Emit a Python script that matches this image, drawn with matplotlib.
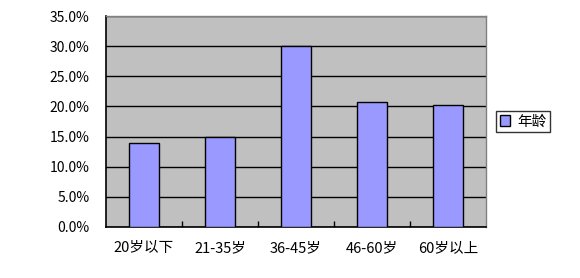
import matplotlib
matplotlib.use("Agg")
import matplotlib.pyplot as plt
from matplotlib.ticker import FuncFormatter, MultipleLocator

plt.rcParams['font.family'] = ['Noto Sans CJK SC', 'DejaVu Sans']

categories = ["20岁以下", "21-35岁", "36-45岁", "46-60岁", "60岁以上"]
values = [13.9, 15.0, 30.0, 20.7, 20.2]
series_name = "年龄"

fig = plt.figure(figsize=(5.8, 2.78), dpi=100)
ax = fig.add_axes([106/580, 1 - 227/278, 380/580, 211/278])
ax.set_facecolor('#C0C0C0')

x = list(range(len(categories)))
ax.bar(x, values, width=0.4, color='#9999FF', edgecolor='black', linewidth=1,
       label=series_name, zorder=3)

ax.set_xlim(-0.5, len(categories) - 0.5)
ax.set_ylim(0, 35)
ax.yaxis.set_major_locator(MultipleLocator(5))
ax.yaxis.set_major_formatter(FuncFormatter(lambda v, p: f"{v:.1f}%"))
ax.grid(axis='y', color='black', linewidth=1, zorder=1)
ax.set_axisbelow(True)

ax.set_xticks(x)
ax.set_xticklabels(categories, fontsize=10.5)
ax.tick_params(axis='x', length=0, pad=10)
ax.set_xticks([i + 0.5 for i in x[:-1]], minor=True)
ax.tick_params(axis='x', which='minor', direction='in', length=4, width=1, color='black')
ax.tick_params(axis='y', length=0, pad=12, labelsize=10)

for s in ['left', 'bottom']:
    ax.spines[s].set_color('black')
    ax.spines[s].set_linewidth(1.2)
for s in ['top', 'right']:
    ax.spines[s].set_color('#808080')
    ax.spines[s].set_linewidth(1)

leg = ax.legend(loc='center left', bbox_to_anchor=(390/380, 0.5), frameon=True,
                fancybox=False, edgecolor='black', fontsize=10.5, handlelength=0.7,
                handleheight=0.7, handletextpad=0.5, borderpad=0.25,
                borderaxespad=0)
leg.get_frame().set_linewidth(1)

fig.savefig('out.png', dpi=100)
